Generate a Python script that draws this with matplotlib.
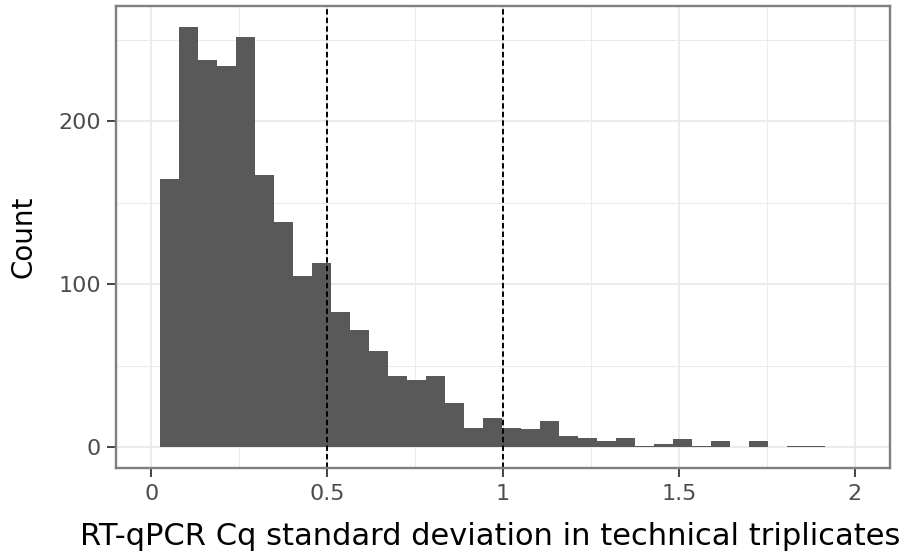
import matplotlib
matplotlib.use("Agg")
import matplotlib.pyplot as plt
import numpy as np

# Histogram data
bin_start = 0.0264
bin_width = 0.054
counts = [165, 258, 238, 234, 252, 167, 138, 105, 113,
          83, 72, 59, 44, 41, 44, 27, 12, 18,
          12, 11, 16, 7, 6, 4, 6, 1, 2, 5, 1, 4, 0, 4, 0, 1, 1]
thresholds = [0.5, 1.0]
x_ticks = [0, 0.5, 1, 1.5, 2]
x_tick_labels = ["0", "0.5", "1", "1.5", "2"]
y_ticks = [0, 100, 200]
x_label = "RT-qPCR Cq standard deviation in technical triplicates"
y_label = "Count"

plt.rcParams['font.family'] = ['DejaVu Sans']

fig = plt.figure(figsize=(9.07, 5.55), dpi=100)
ax = fig.add_axes([116/907, 1-468.3/555, (890-116)/907, (468.3-6)/555])

lefts = bin_start + bin_width * np.arange(len(counts))
ax.bar(lefts, counts, width=bin_width, align='edge', color='#595959',
       linewidth=0, zorder=2)
for t in thresholds:
    ax.axvline(t, color='black', linestyle=(0, (2.8, 1.6)), linewidth=1.4, zorder=3)

ymax = max(counts)
ax.set_xlim(-0.1, 2.1)
ax.set_ylim(-0.05 * ymax, 1.05 * ymax)

ax.set_xticks(x_ticks)
ax.set_xticklabels(x_tick_labels)
ax.set_yticks(y_ticks)
ax.set_xticks([0.25, 0.75, 1.25, 1.75], minor=True)
ax.set_yticks([50, 150, 250], minor=True)

ax.grid(which='major', color='#EBEBEB', linewidth=1.4, zorder=0)
ax.grid(which='minor', color='#EBEBEB', linewidth=0.7, zorder=0)
ax.set_axisbelow(True)

ax.tick_params(which='major', length=6.5, width=1.4, color='#444444',
               labelsize=16, labelcolor='#4D4D4D', pad=4.5)
ax.tick_params(which='minor', length=0)

for s in ax.spines.values():
    s.set_color('#7F7F7F')
    s.set_linewidth(1.7)
    s.set_zorder(4)

ax.set_xlabel(x_label, fontsize=22, color='black', va='baseline')
ax.xaxis.set_label_coords(0.484, -(545 - 468.3) / (468.3 - 6))
ax.set_ylabel(y_label, fontsize=20, color='black', labelpad=15)

fig.savefig("out.png", dpi=100, facecolor='white')
